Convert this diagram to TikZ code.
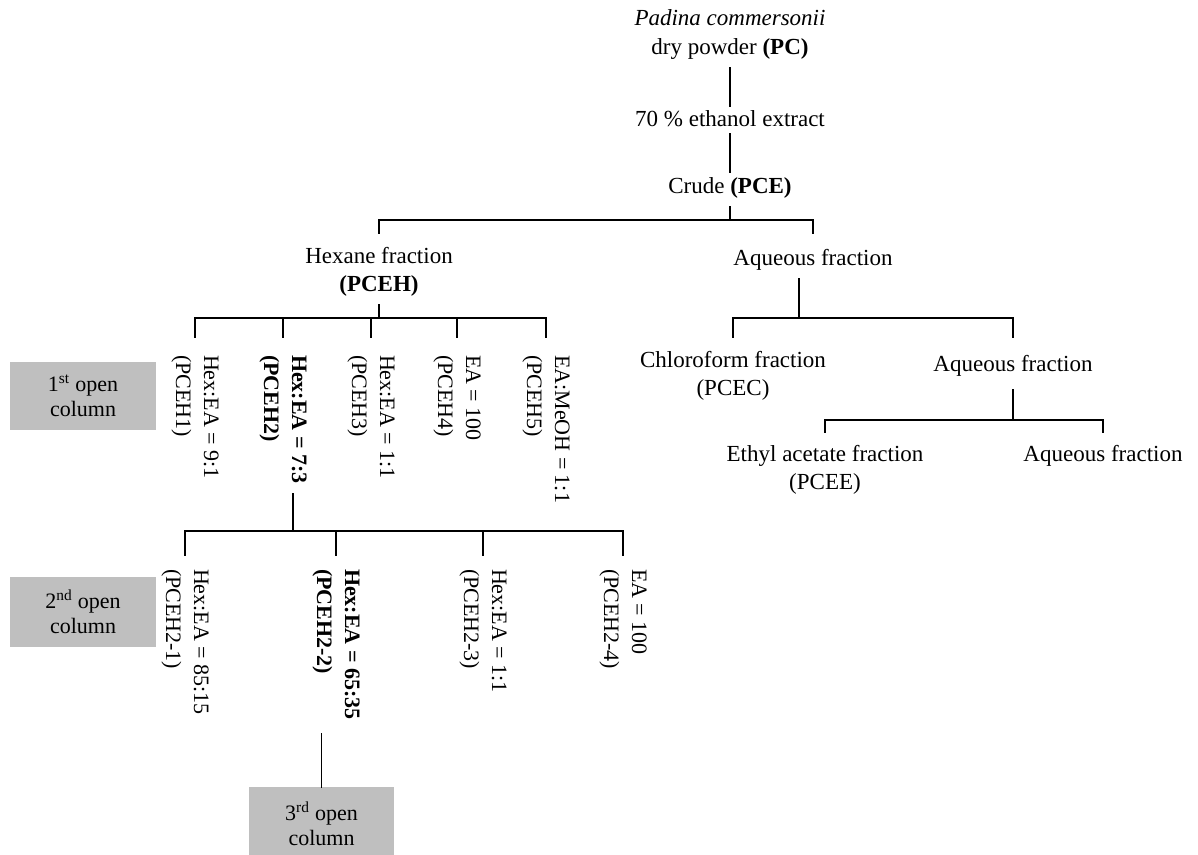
\documentclass[tikz,border=0pt]{standalone}
\usepackage{fontspec}
\setmainfont{Liberation Serif}
\usetikzlibrary{calc}
\definecolor{boxgray}{RGB}{191,191,191}
\begin{document}
\begin{tikzpicture}[x=1pt,y=-1pt,
  every node/.style={inner sep=0pt, outer sep=0pt},
  lbl/.style={anchor=north, align=center, font=\fontsize{23}{28.5}\selectfont},
  rlbl/.style={anchor=west, rotate=-90, align=left, font=\fontsize{22}{28}\selectfont},
  colbox/.style={fill=boxgray, minimum width=146pt, minimum height=68pt, align=center, font=\fontsize{22}{25}\selectfont},
  conn/.style={line width=1.5pt, line cap=rect}]
\useasboundingbox (0,0) rectangle (1198,854);

% top chain
\node[lbl] (pc) at (730,10) {\textit{Padina commersonii}\\dry powder \textbf{(PC)}};
\node[lbl] (eth) at (730,111) {70 \% ethanol extract};
\node[lbl] (pce) at (730,178) {Crude \textbf{(PCE)}};
\draw[conn] ($(pc.south)+(0,8)$) -- ($(eth.north)+(0,-5)$);
\draw[conn] ($(eth.south)+(0,6)$) -- ($(pce.north)+(0,-6)$);

\node[lbl] (hex) at (379,247) {Hexane fraction\\\textbf{(PCEH)}};
\node[lbl] (aq1) at (813,249) {Aqueous fraction};
\coordinate (j0) at (730,220);
\draw[conn] ($(pce.south)+(0,8)$) -- (j0);
\draw[conn] ($(hex.north)+(0,-14)$) |- (j0) -| ($(aq1.north)+(0,-16)$);

% hexane fractions (1st open column)
\node[rlbl] (f1) at (195,355) {Hex:EA = 9:1\\(PCEH1)};
\node[rlbl] (f2) at (283,355) {\textbf{Hex:EA = 7:3}\\\textbf{(PCEH2)}};
\node[rlbl] (f3) at (371,355) {Hex:EA = 1:1\\(PCEH3)};
\node[rlbl] (f4) at (457,355) {EA = 100\\(PCEH4)};
\node[rlbl] (f5) at (546,355) {EA:MeOH = 1:1\\(PCEH5)};
\coordinate (j1) at (379,318);
\draw[conn] ($(hex.south)+(0,8)$) -- (j1);
\draw[conn] ($(f1.west)+(0,-18)$) |- (j1) -| ($(f5.west)+(0,-18)$);
\foreach \f in {f2,f3,f4} \draw[conn] ($(\f.west)+(0,-18)$) -- ($(\f.west)+(0,-37)$);

\node[colbox] (b1) at (83,396) {1\textsuperscript{st} open\\column};

% 2nd open column
\node[rlbl] (g1) at (185,569) {Hex:EA = 85:15\\(PCEH2-1)};
\node[rlbl] (g2) at (336,569) {\textbf{Hex:EA = 65:35}\\\textbf{(PCEH2-2)}};
\node[rlbl] (g3) at (483,569) {Hex:EA = 1:1\\(PCEH2-3)};
\node[rlbl] (g4) at (623,569) {EA = 100\\(PCEH2-4)};
\coordinate (j2) at (293,531);
\draw[conn] (293,494) -- (j2);
\draw[conn] ($(g1.west)+(0,-14)$) |- (j2) -| ($(g4.west)+(0,-14)$);
\foreach \g in {g2,g3} \draw[conn] ($(\g.west)+(0,-14)$) -- ($(\g.west)+(0,-38)$);

\node[colbox, minimum height=70pt] (b2) at (83,612) {2\textsuperscript{nd} open\\column};

% 3rd open column
\node[colbox, minimum width=145pt, minimum height=73pt] (b3) at (321.5,823.5) {3\textsuperscript{rd} open\\column};
\draw[conn] (b3.north) -- ++(0,-53);

% aqueous branch
\node[lbl] (chl) at (733,351) {Chloroform fraction\\(PCEC)};
\node[lbl] (aq2) at (1013,355) {Aqueous fraction};
\coordinate (j3) at (799,318);
\draw[conn] ($(aq1.south -| j3)+(0,9)$) -- (j3);
\draw[conn] ($(chl.north)+(0,-14)$) |- (j3) -| ($(aq2.north)+(0,-18)$);

\node[lbl] (eta) at (825,445) {Ethyl acetate fraction\\(PCEE)};
\node[lbl] (aq3) at (1103,445) {Aqueous fraction};
\coordinate (j4) at (1013,420);
\draw[conn] ($(aq2.south)+(0,14)$) -- (j4);
\draw[conn] ($(eta.north)+(0,-13)$) |- (j4) -| ($(aq3.north)+(0,-13)$);
\end{tikzpicture}
\end{document}
